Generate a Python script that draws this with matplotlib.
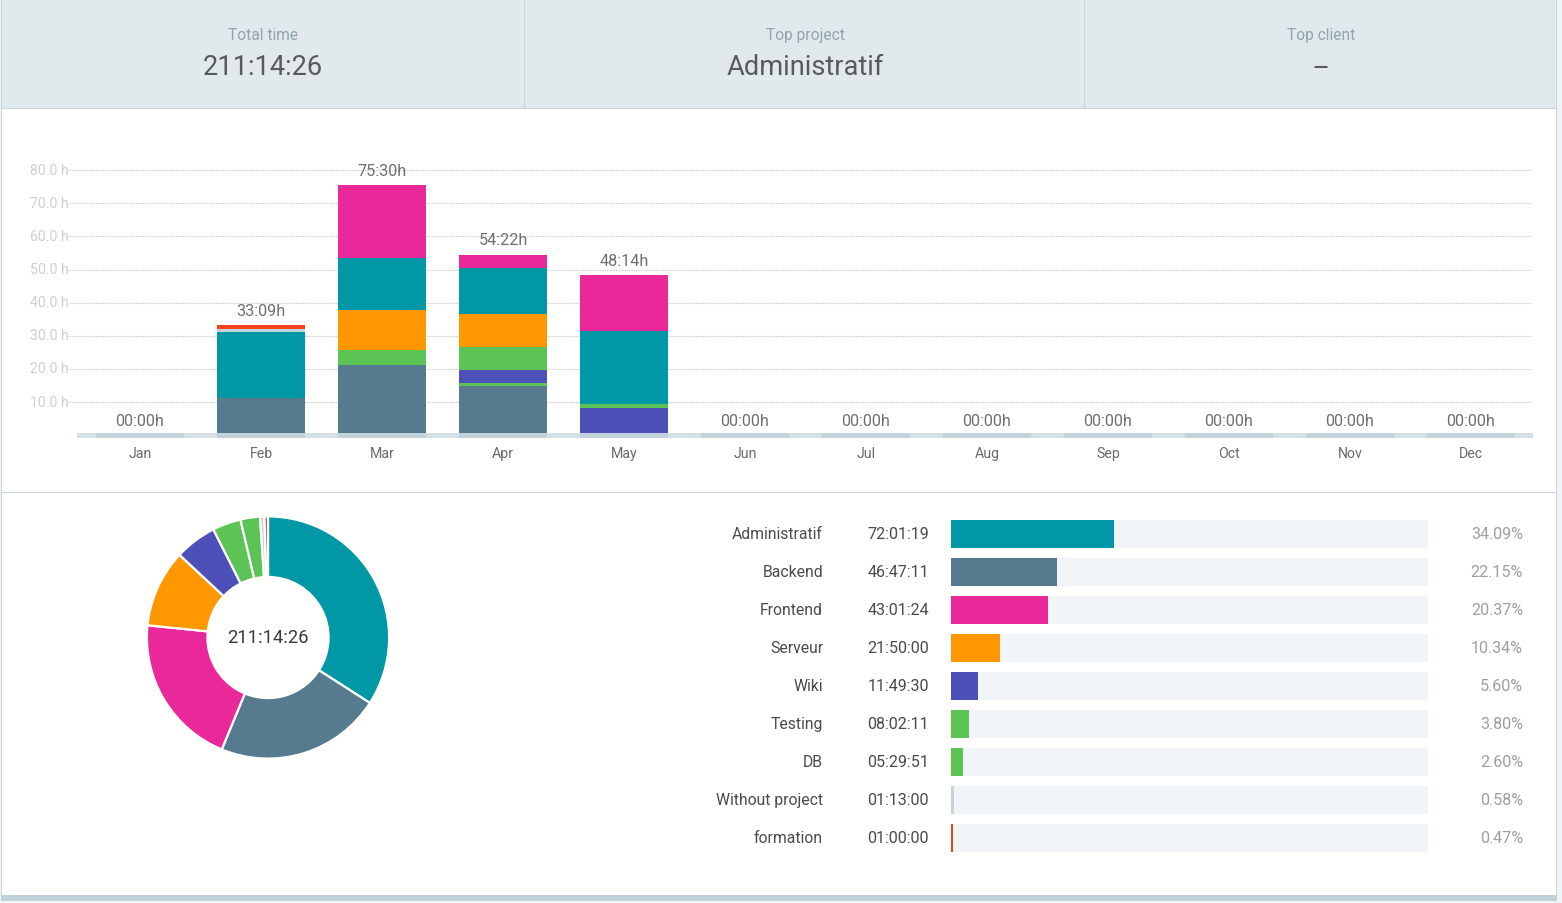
import matplotlib
matplotlib.use("Agg")
import matplotlib.pyplot as plt
from matplotlib.patches import Rectangle
from matplotlib.transforms import ScaledTranslation

plt.rcParams['font.family'] = ['Roboto', 'DejaVu Sans']

# header
HEADER_TITLES = ["Total time", "Top project", "Top client"]
HEADER_VALUES = ["211:14:26", "Administratif", "--"]

# monthly chart, hours per project
MONTHS = ["Jan", "Feb", "Mar", "Apr", "May", "Jun", "Jul", "Aug", "Sep", "Oct", "Nov", "Dec"]
MONTH_TOTALS = ["00:00h", "33:09h", "75:30h", "54:22h", "48:14h", "00:00h", "00:00h",
                "00:00h", "00:00h", "00:00h", "00:00h", "00:00h"]
Y_TICKS = [10, 20, 30, 40, 50, 60, 70, 80]

BACKEND = [0, 11.3, 21.2, 14.8, 0, 0, 0, 0, 0, 0, 0, 0]
DB = [0, 0, 4.5, 1.1, 0, 0, 0, 0, 0, 0, 0, 0]
WIKI = [0, 0, 0, 3.8, 8.2, 0, 0, 0, 0, 0, 0, 0]
TESTING = [0, 0, 0, 6.9, 1.1, 0, 0, 0, 0, 0, 0, 0]
SERVEUR = [0, 0, 12.0, 9.9, 0, 0, 0, 0, 0, 0, 0, 0]
ADMIN = [0, 19.8, 15.9, 14.1, 22.1, 0, 0, 0, 0, 0, 0, 0]
WITHOUT = [0, 1.1, 0, 0, 0, 0, 0, 0, 0, 0, 0, 0]
FORMATION = [0, 1.0, 0, 0, 0, 0, 0, 0, 0, 0, 0, 0]
FRONTEND = [0, 0, 21.9, 3.8, 16.85, 0, 0, 0, 0, 0, 0, 0]

# project breakdown
PROJECTS = ["Administratif", "Backend", "Frontend", "Serveur", "Wiki", "Testing", "DB",
            "Without project", "formation"]
TIMES = ["72:01:19", "46:47:11", "43:01:24", "21:50:00", "11:49:30", "08:02:11", "05:29:51",
         "01:13:00", "01:00:00"]
PERCENTS = [34.09, 22.15, 20.37, 10.34, 5.60, 3.80, 2.60, 0.58, 0.47]
PROJECT_COLORS = ["#0097a7", "#567a8e", "#e9289a", "#ff9800", "#4d50b8", "#5cc454", "#5cc454",
                  "#c5d3da", "#f4431e"]

W, H = 1562, 903
PAGE = "#fffffd"
OUTSIDE = "#eff4f6"
# the extra 0.01 stops 9.03 * 100 being floored to 902 rows
fig = plt.figure(figsize=(W / 100, (H + 0.01) / 100), dpi=100, facecolor=PAGE)


# axes placed by pixel box, y measured from the top like the screenshot
def px_axes(left, top, right, bottom, **kw):
    return fig.add_axes([left / W, 1 - bottom / H, (right - left) / W, (bottom - top) / H], **kw)


def px_rect(x0, y0, x1, y1, color):
    fig.add_artist(Rectangle((x0 / W, 1 - y1 / H), (x1 - x0) / W, (y1 - y0) / H,
                             transform=fig.transFigure, facecolor=color, edgecolor="none"))


def px_text(x, y, s, **kw):
    fig.text(x / W, 1 - y / H, s, va="center", **kw)


# page frame and header band
px_rect(0, 0, 1, H, OUTSIDE)
px_rect(1, 0, 2, 901, "#c5d3da")
px_rect(1556, 0, 1557, 901, "#c9d7dd")
px_rect(1557, 0, W, H, OUTSIDE)
px_rect(2, 0, 1556, 108, "#e2e9ed")
px_rect(2, 108, 1556, 109, "#c5d3da")
px_rect(524, 0, 525, 108, "#c5d3da")
px_rect(1084, 0, 1085, 108, "#c5d3da")
px_rect(2, 492, 1556, 493, "#c5d3da")
px_rect(1, 895, 1557, 901, "#c0d0d6")
px_rect(0, 901, W, H, OUTSIDE)

for cx, title, value in zip([263, 805, 1321], HEADER_TITLES, HEADER_VALUES):
    px_text(cx, 35.5, title, ha="center", fontsize=11.2, color="#90a4ae")
    px_text(cx, 67.5, value, ha="center", fontsize=19.6, color="#5a5a5a")

# stacked monthly bars
ax = px_axes(69, 149.5, 1533, 435.3)
ax.patch.set_alpha(0)
x_pos = list(range(len(MONTHS)))
ax.set_xlim((69 - 140) / 121, (1533 - 140) / 121)
ax.set_ylim(0, 285.8 / 3.314)

stack = [(BACKEND, "#567a8e"), (DB, "#5cc454"), (WIKI, "#4d50b8"), (TESTING, "#5cc454"),
         (SERVEUR, "#ff9800"), (ADMIN, "#0097a7"), (WITHOUT, "#c5d3da"),
         (FORMATION, "#f4431e"), (FRONTEND, "#e9289a")]
bottoms = [0.0] * len(MONTHS)
for values, color in stack:
    ax.bar(x_pos, values, width=88 / 121, bottom=bottoms, color=color, linewidth=0, zorder=3)
    bottoms = [b + v for b, v in zip(bottoms, values)]

ax.hlines(Y_TICKS, (69 - 140) / 121, (1531 - 140) / 121, color="#c4c4c4", linewidth=0.8,
          linestyle=(0, (1, 1)), zorder=1)
ax.set_yticks(Y_TICKS)
ax.set_yticklabels([f"{y:.1f} h" for y in Y_TICKS], fontsize=10.2, color="#cfcfcf")
ax.set_xticks(x_pos)
ax.set_xticklabels(MONTHS, fontsize=10.2, color="#6a6a6a")
ax.tick_params(length=0, axis="y", pad=0)
ax.tick_params(length=0, axis="x", pad=8.4)
for lab in ax.get_yticklabels():
    lab.set_transform(lab.get_transform() + ScaledTranslation(0, 0.8 / 72, fig.dpi_scale_trans))
for side in ax.spines:
    ax.spines[side].set_visible(False)

# thick baseline with a darker slot under each month
ax.axhspan(-0.72, 0.7, xmin=8 / 1464, color="#d4e0e6", linewidth=0, zorder=4, clip_on=False)
ax.bar(x_pos, [1.42] * 12, bottom=-0.72, width=88 / 121, color="#c0d2da", alpha=0.9, linewidth=0,
       zorder=5, clip_on=False)

for i, label in enumerate(MONTH_TOTALS):
    ax.annotate(label, (i, bottoms[i]), textcoords="offset points", xytext=(0, 10.1),
                ha="center", va="center", fontsize=11.7, color="#6f6f6f", zorder=6)

# donut
pie_ax = px_axes(147.5, 517, 388.5, 758)
pie_ax.pie(PERCENTS, colors=PROJECT_COLORS, startangle=90, counterclock=False, radius=1.0,
           wedgeprops=dict(width=0.5, edgecolor="#ffffff", linewidth=1.6))
pie_ax.set_xlim(-0.995, 0.995)
pie_ax.set_ylim(-0.995, 0.995)
pie_ax.text(0, 0, HEADER_VALUES[0], ha="center", va="center", fontsize=13.2, color="#3a3a3a")

# horizontal percentage bars
hb = px_axes(951, 515.5, 1428, 857.5)
hb.patch.set_alpha(0)
rows = list(range(len(PROJECTS)))
hb.set_xlim(0, 100)
hb.set_ylim(len(PROJECTS) - 0.5, -0.5)
hb.barh(rows, [100] * len(PROJECTS), height=28 / 38, color="#f1f5f7", zorder=1)
hb.barh(rows, PERCENTS, height=28 / 38, color=PROJECT_COLORS, zorder=2)
hb.axis("off")
for i in rows:
    row_y = 534.5 + 38 * i
    px_text(823, row_y, PROJECTS[i], ha="right", fontsize=11.35, color="#4a4a4a")
    px_text(867.5, row_y, TIMES[i], ha="left", fontsize=11.6, color="#4a4a4a")
    px_text(1523, row_y, f"{PERCENTS[i]:.2f}%", ha="right", fontsize=11.6, color="#9e9e9e")

fig.savefig("out.png", dpi=100, facecolor=PAGE)
